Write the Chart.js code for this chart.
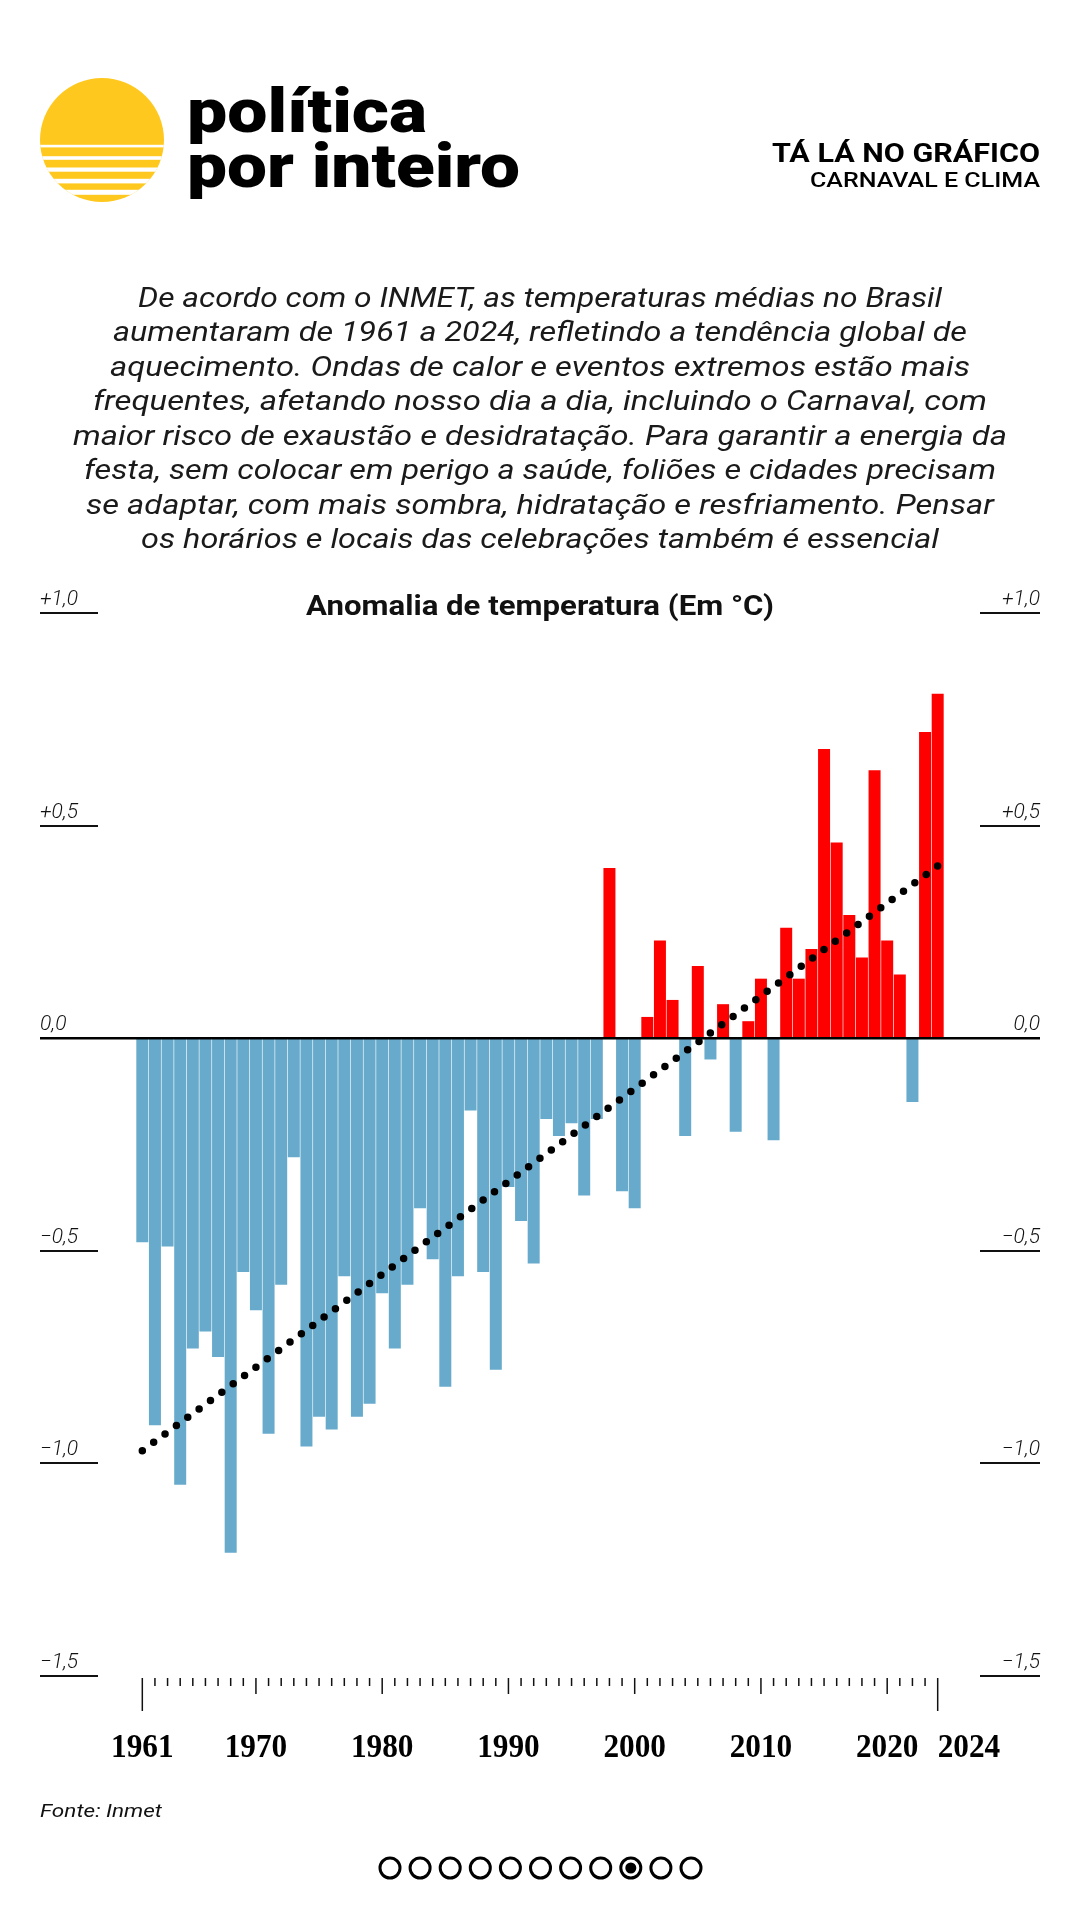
<!DOCTYPE html>
<html lang="pt-BR"><head><meta charset="utf-8">
<script src="https://cdn.jsdelivr.net/npm/chart.js@4.4.1/dist/chart.umd.min.js"></script>
<style>
html,body{margin:0;padding:0;background:#fff;}
#wrap{position:relative;width:1080px;height:1920px;overflow:hidden;background:#fff;}
#c{position:absolute;left:0;top:0;}
#ov{position:absolute;left:0;top:0;pointer-events:none;}
.body{font-family:Roboto,'Open Sans',sans-serif;font-style:italic;font-weight:400;font-size:27px;fill:#1a1a1a;}
</style></head><body>
<div id="wrap">
<canvas id="c" width="1080" height="1920"></canvas>
<svg id="ov" width="1080" height="1920" xmlns="http://www.w3.org/2000/svg">
  <defs><clipPath id="lc"><circle cx="102" cy="140" r="62"/></clipPath></defs>
  <g clip-path="url(#lc)">
    <rect x="38" y="76" width="128" height="128" fill="#FFC81E"/>
    <rect x="38" y="144.8" width="128" height="2.6" fill="#fff"/>
    <rect x="38" y="156.2" width="128" height="3.6" fill="#fff"/>
    <rect x="38" y="167.5" width="128" height="4.2" fill="#fff"/>
    <rect x="38" y="178.8" width="128" height="4.6" fill="#fff"/>
    <rect x="38" y="189.8" width="128" height="5" fill="#fff"/>
  </g>
  <text x="187" y="131.7" font-family="Roboto" font-weight="900" font-size="62" fill="#000" textLength="240" lengthAdjust="spacingAndGlyphs">política</text>
  <text x="187" y="186.7" font-family="Roboto" font-weight="900" font-size="62" fill="#000" textLength="333" lengthAdjust="spacingAndGlyphs">por inteiro</text>
  <text x="1040" y="161.7" text-anchor="end" font-family="Roboto" font-weight="700" font-size="25" fill="#000" textLength="268" lengthAdjust="spacingAndGlyphs">TÁ LÁ NO GRÁFICO</text>
  <text x="1040" y="186.7" text-anchor="end" font-family="Roboto" font-weight="500" font-size="21" fill="#000" textLength="230" lengthAdjust="spacingAndGlyphs">CARNAVAL E CLIMA</text>

  <text class="body" x="540" y="306.7" text-anchor="middle" textLength="804" lengthAdjust="spacingAndGlyphs">De acordo com o INMET, as temperaturas médias no Brasil</text>
  <text class="body" x="540" y="341.2" text-anchor="middle" textLength="854" lengthAdjust="spacingAndGlyphs">aumentaram de 1961 a 2024, refletindo a tendência global de</text>
  <text class="body" x="540" y="375.7" text-anchor="middle" textLength="860" lengthAdjust="spacingAndGlyphs">aquecimento. Ondas de calor e eventos extremos estão mais</text>
  <text class="body" x="540" y="410.2" text-anchor="middle" textLength="894" lengthAdjust="spacingAndGlyphs">frequentes, afetando nosso dia a dia, incluindo o Carnaval, com</text>
  <text class="body" x="540" y="444.7" text-anchor="middle" textLength="934" lengthAdjust="spacingAndGlyphs">maior risco de exaustão e desidratação. Para garantir a energia da</text>
  <text class="body" x="540" y="479.2" text-anchor="middle" textLength="912" lengthAdjust="spacingAndGlyphs">festa, sem colocar em perigo a saúde, foliões e cidades precisam</text>
  <text class="body" x="540" y="513.7" text-anchor="middle" textLength="908" lengthAdjust="spacingAndGlyphs">se adaptar, com mais sombra, hidratação e resfriamento. Pensar</text>
  <text class="body" x="540" y="548.2" text-anchor="middle" textLength="798" lengthAdjust="spacingAndGlyphs">os horários e locais das celebrações também é essencial</text>

  <text x="540" y="615" text-anchor="middle" font-family="Roboto" font-weight="700" font-size="28" fill="#111" textLength="468" lengthAdjust="spacingAndGlyphs">Anomalia de temperatura (Em °C)</text>

  <text x="40" y="1817" font-family="Roboto" font-style="italic" font-weight="400" font-size="19" fill="#111" textLength="122" lengthAdjust="spacingAndGlyphs">Fonte: Inmet</text>

  <g fill="none" stroke="#000" stroke-width="3">
    <circle cx="390" cy="1868" r="10"/><circle cx="420.1" cy="1868" r="10"/><circle cx="450.2" cy="1868" r="10"/>
    <circle cx="480.3" cy="1868" r="10"/><circle cx="510.4" cy="1868" r="10"/><circle cx="540.5" cy="1868" r="10"/>
    <circle cx="570.6" cy="1868" r="10"/><circle cx="600.7" cy="1868" r="10"/><circle cx="630.8" cy="1868" r="10"/>
    <circle cx="660.9" cy="1868" r="10"/><circle cx="691" cy="1868" r="10"/>
  </g>
  <circle cx="630.8" cy="1868" r="5.5" fill="#000"/>
</svg>
</div>
<script>
// ---- data ----
const years = ['1961','1962','1963','1964','1965','1966','1967','1968','1969','1970',
  '1971','1972','1973','1974','1975','1976','1977','1978','1979','1980',
  '1981','1982','1983','1984','1985','1986','1987','1988','1989','1990',
  '1991','1992','1993','1994','1995','1996','1997','1998','1999','2000',
  '2001','2002','2003','2004','2005','2006','2007','2008','2009','2010',
  '2011','2012','2013','2014','2015','2016','2017','2018','2019','2020',
  '2021','2022','2023','2024'];
const anomalies = [-0.48,-0.91,-0.49,-1.05,-0.73,-0.69,-0.75,-1.21,-0.55,-0.64,
  -0.93,-0.58,-0.28,-0.96,-0.89,-0.92,-0.56,-0.89,-0.86,-0.60,
  -0.73,-0.58,-0.40,-0.52,-0.82,-0.56,-0.17,-0.55,-0.78,-0.35,
  -0.43,-0.53,-0.19,-0.23,-0.20,-0.37,-0.19,0.40,-0.36,-0.40,
  0.05,0.23,0.09,-0.23,0.17,-0.05,0.08,-0.22,0.04,0.14,
  -0.24,0.26,0.14,0.21,0.68,0.46,0.29,0.19,0.63,0.23,
  0.15,-0.15,0.72,0.81];
const trendEnds = [-0.97, 0.405];          // trend line value at 1961 and at 2024
const yTicks = [1.0, 0.5, 0, -0.5, -1.0, -1.5];
const xLabelYears = ['1961','1970','1980','1990','2000','2010','2020','2024'];

const trendData = years.map((y, i) => i === 0 ? trendEnds[0] : (i === years.length - 1 ? trendEnds[1] : null));

function fmt(v){
  const s = Math.abs(v).toFixed(1).replace('.', ',');
  return v > 0 ? '+' + s : (v < 0 ? '\u2212' + s : s);
}

const axisPlugin = {
  id: 'axisPlugin',
  afterDatasetsDraw(chart){
    const {ctx, chartArea} = chart;
    const x = chart.scales.x, y = chart.scales.y;
    ctx.save();
    ctx.strokeStyle = '#111';
    ctx.fillStyle = '#111';
    ctx.font = 'italic 300 21px Roboto';
    ctx.textBaseline = 'alphabetic';
    yTicks.forEach(v => {
      const py = Math.round(y.getPixelForValue(v));
      ctx.lineWidth = 2;
      ctx.beginPath();
      ctx.moveTo(40, py); ctx.lineTo(98, py);
      ctx.moveTo(980, py); ctx.lineTo(1040, py);
      ctx.stroke();
      const t = fmt(v);
      ctx.textAlign = 'left'; ctx.fillText(t, 40, py - 8);
      ctx.textAlign = 'right'; ctx.fillText(t, 1040, py - 8);
    });
    const y0 = y.getPixelForValue(0);
    ctx.strokeStyle = '#000';
    ctx.lineWidth = 2.5;
    ctx.beginPath(); ctx.moveTo(40, y0); ctx.lineTo(1040, y0); ctx.stroke();
    const top = chartArea.bottom + 2;
    ctx.strokeStyle = '#111';
    ctx.lineWidth = 1.5;
    years.forEach((yr, i) => {
      const px = x.getPixelForValue(i);
      let len = 8;
      if (Number(yr) % 10 === 0) len = 16;
      if (i === 0 || i === years.length - 1) len = 33;
      ctx.beginPath(); ctx.moveTo(px, top); ctx.lineTo(px, top + len); ctx.stroke();
    });
    ctx.fillStyle = '#000';
    ctx.font = 'bold 34px "Liberation Serif"';
    ctx.textBaseline = 'alphabetic';
    xLabelYears.forEach(lbl => {
      const i = years.indexOf(lbl);
      const px = x.getPixelForValue(i);
      const last = i === years.length - 1;
      ctx.save();
      ctx.translate(px, 1757);
      ctx.scale(0.92, 1);
      ctx.textAlign = last ? 'left' : 'center';
      ctx.fillText(lbl, 0, 0);
      ctx.restore();
    });
    ctx.restore();
  }
};

new Chart(document.getElementById('c').getContext('2d'), {
  type: 'bar',
  data: {
    labels: years,
    datasets: [
      {
        type: 'line', data: trendData, borderColor: '#000', borderWidth: 7.5,
        borderDash: [0, 14.1], borderCapStyle: 'round', pointRadius: 0,
        spanGaps: true, tension: 0, fill: false, order: 0
      },
      {
        type: 'bar', data: anomalies,
        backgroundColor: anomalies.map(v => v >= 0 ? '#ff0000' : '#67aacb'),
        barPercentage: 0.95, categoryPercentage: 1.0, borderWidth: 0, order: 1
      }
    ]
  },
  options: {
    responsive: false, animation: false, devicePixelRatio: 1,
    layout: { padding: { left: 136, right: 136, top: 613, bottom: 244 } },
    plugins: { legend: { display: false }, tooltip: { enabled: false }, title: { display: false } },
    scales: {
      x: { display: false, offset: true },
      y: { display: false, min: -1.5, max: 1.0 }
    }
  },
  plugins: [axisPlugin]
});
</script>
</body></html>
